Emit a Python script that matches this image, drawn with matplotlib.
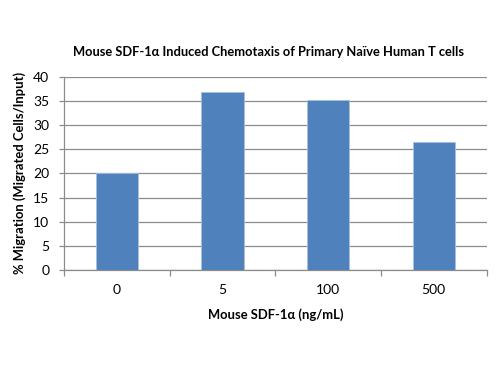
import numpy as np
import matplotlib
matplotlib.use("Agg")
import matplotlib.pyplot as plt

# data
doses = ["0", "5", "100", "500"]
migration = [20.0, 36.8, 35.3, 26.6]
y_ticks = [0, 5, 10, 15, 20, 25, 30, 35, 40]

plt.rcParams["font.family"] = ["Lato", "DejaVu Sans"]

fig = plt.figure(figsize=(5, 3.75), dpi=100)
ax = fig.add_axes([0.128, 0.28, 0.845, 0.515])

x = np.arange(len(doses))
ax.bar(x, migration, width=0.4, color="#4F81BD", edgecolor="#A7C0DE",
       linewidth=0.6, zorder=3)

ax.set_xlim(-0.5, len(doses) - 0.5)
ax.set_ylim(0, 40)
ax.set_yticks(y_ticks)
ax.yaxis.grid(True, color="#8C8C8C", linewidth=0.9, zorder=0)

# category labels centred, ticks on the boundaries like Excel
ax.set_xticks(x)
ax.set_xticklabels(doses, fontsize=10)
ax.tick_params(axis="x", length=0, pad=10)
ax.set_xticks(np.arange(-0.5, len(doses)), minor=True)
ax.tick_params(axis="x", which="minor", length=4, color="#8C8C8C", width=0.9)
ax.tick_params(axis="y", labelsize=10, length=3.6, color="#8C8C8C", width=0.9, pad=7)

for side in ["top", "right"]:
    ax.spines[side].set_visible(False)
for side in ["left", "bottom"]:
    ax.spines[side].set_color("#8C8C8C")
    ax.spines[side].set_linewidth(0.9)

ax.set_xlabel("Mouse SDF-1\u03b1 (ng/mL)", fontsize=9.4, fontweight="bold", labelpad=9)
ax.set_ylabel("% Migration (Migrated Cells/Input)", fontsize=9.4, fontweight="bold", labelpad=5)

fig.text(0.537, 0.862, "Mouse SDF-1\u03b1 Induced Chemotaxis of Primary Na\u00efve Human T cells",
         ha="center", va="center", fontsize=9.3, fontweight="bold")

fig.savefig("out.png", dpi=100)
